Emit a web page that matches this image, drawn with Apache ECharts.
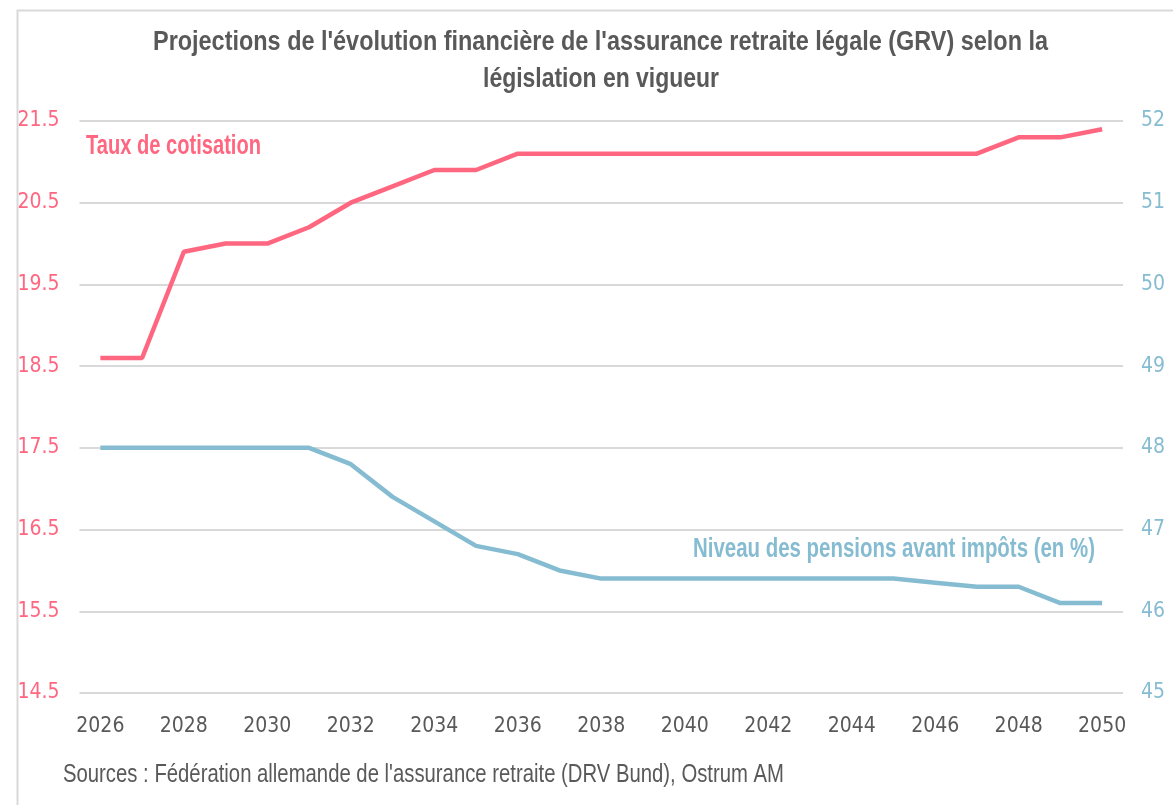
<!DOCTYPE html>
<html>
<head>
<meta charset="utf-8">
<script src="https://cdn.jsdelivr.net/npm/echarts@6/dist/echarts.min.js"></script>
<style>
  html, body { margin: 0; padding: 0; background: #fff; }
  #main { width: 1173px; height: 805px; }
</style>
</head>
<body>
<div id="main"></div>
<script>
const years = ["2026", "2027", "2028", "2029", "2030", "2031", "2032", "2033", "2034", "2035",
  "2036", "2037", "2038", "2039", "2040", "2041", "2042", "2043", "2044", "2045",
  "2046", "2047", "2048", "2049", "2050"];
// taux de cotisation (axe gauche)
const tauxCotisation = [18.6, 18.6, 19.9, 20.0, 20.0, 20.2, 20.5, 20.7, 20.9, 20.9,
  21.1, 21.1, 21.1, 21.1, 21.1, 21.1, 21.1, 21.1, 21.1, 21.1,
  21.1, 21.1, 21.3, 21.3, 21.4];
// niveau des pensions avant impots (axe droit)
const niveauPensions = [48.0, 48.0, 48.0, 48.0, 48.0, 48.0, 47.8, 47.4, 47.1, 46.8,
  46.7, 46.5, 46.4, 46.4, 46.4, 46.4, 46.4, 46.4, 46.4, 46.4,
  46.35, 46.3, 46.3, 46.1, 46.1];
const titleLines = ["Projections de l'évolution financière de l'assurance retraite légale (GRV) selon la",
  "législation en vigueur"];
const sourceText = "Sources : Fédération allemande de l'assurance retraite (DRV Bund), Ostrum AM";

const red = "#FF6680";
const blue = "#86BCD1";
const grey = "#595959";
const narrow = "'DejaVu Sans Condensed', 'Liberation Sans', sans-serif";
const sans = "'Liberation Sans', Arial, sans-serif";

// squeeze text horizontally so that it looks like the narrow font of the original
const ctx = document.createElement("canvas").getContext("2d");
function narrowText(text, font, color, x, y, width, align) {
  ctx.font = font;
  const sx = width / ctx.measureText(text).width;
  return {
    type: "text",
    x: x,
    y: y,
    scaleX: sx,
    silent: true,
    style: { text: text, font: font, fill: color, align: align, verticalAlign: "middle" }
  };
}

const chart = echarts.init(document.getElementById("main"));
const option = {
  backgroundColor: "#fff",
  animation: false,
  grid: { left: 79.5, right: 50, top: 121, bottom: 112, containLabel: false },
  xAxis: {
    type: "category",
    data: years,
    boundaryGap: true,
    axisLine: { show: false },
    axisTick: { show: false },
    axisLabel: {
      interval: 1,
      margin: 23,
      fontFamily: narrow,
      fontSize: 21,
      color: grey
    }
  },
  yAxis: [
    {
      type: "value",
      min: 14.5,
      max: 21.5,
      interval: 1,
      axisLine: { show: false },
      axisTick: { show: false },
      splitLine: { lineStyle: { color: "#d9d9d9", width: 2 } },
      axisLabel: {
        margin: 20,
        fontFamily: narrow,
        fontSize: 21,
        color: red,
        formatter: v => v.toFixed(1)
      }
    },
    {
      type: "value",
      min: 45,
      max: 52,
      interval: 1,
      axisLine: { show: false },
      axisTick: { show: false },
      splitLine: { show: false },
      axisLabel: {
        margin: 18,
        fontFamily: narrow,
        fontSize: 21,
        color: blue
      }
    }
  ],
  series: [
    {
      name: "Taux de cotisation",
      type: "line",
      yAxisIndex: 0,
      data: tauxCotisation,
      symbol: "none",
      lineStyle: { color: red, width: 4.5 }
    },
    {
      name: "Niveau des pensions avant impôts (en %)",
      type: "line",
      yAxisIndex: 1,
      data: niveauPensions,
      symbol: "none",
      lineStyle: { color: blue, width: 4.5 }
    }
  ],
  graphic: [
    {
      type: "rect",
      left: 15,
      top: 8,
      shape: { width: 1180, height: 820 },
      style: { fill: "none", stroke: "#d9d9d9", lineWidth: 2 },
      silent: true
    },
    narrowText(titleLines[0], "bold 27px " + sans, grey, 600.5, 43, 895, "center"),
    narrowText(titleLines[1], "bold 27px " + sans, grey, 601, 80, 236, "center"),
    narrowText("Taux de cotisation", "bold 27px " + sans, red, 86, 147, 175, "left"),
    narrowText("Niveau des pensions avant impôts (en %)", "bold 27px " + sans, blue, 693, 550, 402, "left"),
    narrowText(sourceText, "25px " + sans, grey, 63, 775, 721, "left")
  ]
};
chart.setOption(option);
</script>
</body>
</html>
